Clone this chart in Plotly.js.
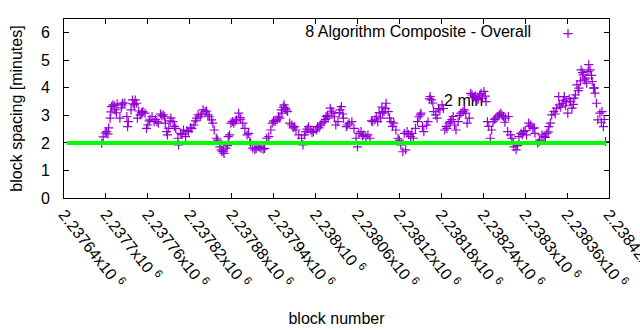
<!DOCTYPE html>
<html>
<head>
<meta charset="utf-8">
<script src="https://cdn.plot.ly/plotly-3.0.1.min.js"></script>
<style>html,body{margin:0;padding:0;background:#fff;}#chart{width:640px;height:330px;}</style>
</head>
<body>
<div id="chart"></div>
<script>
const blockNumbers = [
2237694,2237699,2237701,2237704,2237706,2237708,2237710,2237713,2237715,2237720,2237723,2237724,2237730,2237731,2237732,2237736,2237738,2237741,2237744,2237745,2237749,2237751,2237753,2237756,2237758,2237760,2237763,2237766,2237769,2237773,2237775,2237780,2237782,2237785,2237787,2237788,2237790,2237793,2237796,2237800,2237803,2237804,2237807,2237811,2237814,2237818,2237823,2237826,2237830,2237832,
2237835,2237839,2237842,2237846,2237851,2237853,2237855,2237858,2237860,2237863,2237866,2237869,2237872,2237875,2237877,2237879,2237883,2237887,2237890,2237893,2237896,2237899,2237902,2237904,2237907,2237910,2237913,2237918,2237922,2237925,2237930,2237933,2237936,2237938,2237942,2237945,2237949,2237952,2237955,2237957,2237960,2237963,2237966,2237970,2237972,2237976,2237980,
2237982,2237984,2237986,2237990,2237993,2237997,2238001,2238003,2238007,2238009,2238012,2238015,2238018,2238021,2238025,2238029,2238032,2238035,2238037,2238040,2238044,2238048,2238052,2238055,2238058,2238060,2238065,2238069,2238072,2238075,2238078,2238082,2238085,2238089,2238093,2238096,2238098,2238101,2238104,2238108,2238112,2238115,2238118,2238120,2238122,2238125,2238127,
2238129,2238131,2238136,2238140,2238143,2238146,2238150,2238151,2238155,2238159,2238161,2238164,2238166,2238169,2238172,2238174,2238178,2238181,2238185,2238188,2238191,2238193,2238197,2238201,2238204,2238208,2238211,2238215,2238217,2238220,2238224,2238228,2238231,2238235,2238239,2238241,2238244,2238246,2238250,2238252,2238254,2238258,2238261,2238265,2238269,2238272,2238275,
2238276,2238279,2238281,2238284,2238287,2238291,2238294,2238298,2238302,2238305,2238308,2238311,2238314,2238318,2238321,2238324,2238327,2238331,2238334,2238336,2238338,2238341,2238345,2238348,2238349,2238353,2238356,2238359,2238361,2238365,2238367,2238370,2238372,2238374,2238377,2238380,2238383,2238385,2238388,2238391,2238393,2238396,2238398,2238400,2238402,2238404,2238407,2238410,2238412,2238415,
2237696,2237703,2237707,2237712,2237716,2237722,2237727,2237739,2237742,2237747,2237752,2237762,2237771,2237778,2237784,2237792,2237798,2237809,2237816,2237821,2237828,
2237837,2237844,2237848,2237865,2237868,2237874,2237881,2237885,2237892,2237906,2237915,2237920,2237927,2237940,2237947,2237951,2237954,2237958,2237968,
2237988,2237995,2238005,2238014,2238017,2238023,2238027,2238034,2238039,2238046,2238062,2238067,2238080,2238087,2238091,2238095,2238100,2238106,2238110,
2238133,2238138,2238148,2238153,2238163,2238168,2238176,2238183,2238187,2238195,2238199,2238206,2238213,2238222,2238226,2238229,2238233,2238237,2238243,2238248,2238256,2238263,2238267,2238271,
2238283,2238289,2238296,2238300,2238307,2238313,2238320,2238329,2238333,2238343,2238351,2238355,2238358,2238363,2238369,2238376,2238379,2238382,2238387,2238390,2238395,2238399,2238409,2238413
];
const spacingMinutes = [
1.99,2.36,2.41,2.55,2.90,3.32,3.38,3.20,3.09,2.90,3.38,3.45,2.96,2.59,2.77,3.20,3.56,3.38,3.44,2.90,3.02,3.10,3.14,3.08,2.53,2.65,2.86,2.96,2.77,2.77,2.72,2.98,3.02,2.72,2.41,2.29,2.53,2.90,2.77,2.53,2.17,1.93,2.35,2.47,2.23,2.41,2.53,2.65,2.90,3.02,
2.95,3.20,3.14,3.02,2.84,2.72,2.47,2.17,2.10,1.86,1.68,1.62,1.81,2.23,2.29,2.72,2.72,2.84,3.08,2.86,2.72,2.53,2.29,2.35,1.99,1.81,1.75,1.86,1.81,1.77,2.17,2.23,2.47,2.72,2.77,2.84,2.90,3.08,3.38,3.26,3.14,2.72,2.65,2.59,2.47,2.29,2.17,
1.93,2.29,2.41,2.59,2.47,2.41,2.47,2.59,2.65,2.72,2.77,2.96,2.90,3.26,3.08,2.65,2.77,3.20,3.32,2.90,2.59,2.72,2.77,2.53,2.17,1.86,2.41,2.29,2.23,2.29,2.17,2.77,2.84,2.77,2.90,3.08,3.14,3.44,3.14,2.77,2.72,2.47,2.17,2.10,1.93,1.68,2.35,
1.75,2.41,2.23,2.17,2.53,2.77,3.02,3.08,2.41,2.65,2.77,3.68,3.56,3.14,3.02,2.90,3.20,3.38,2.47,2.53,2.72,2.77,2.96,2.47,2.77,3.08,3.14,3.08,2.72,2.90,3.74,3.68,3.56,3.74,3.63,3.87,3.50,2.77,2.17,2.47,2.77,2.90,2.96,3.08,2.96,2.90,2.41,
2.96,2.29,2.17,1.86,1.75,2.23,2.35,2.41,2.29,2.72,2.65,2.53,2.35,1.99,2.10,2.29,2.23,2.35,2.59,2.72,3.02,3.14,3.26,3.68,3.38,3.44,3.68,3.50,3.08,3.50,3.26,3.63,3.74,4.11,3.99,4.65,4.47,4.29,4.17,4.84,4.65,4.23,3.99,3.81,3.44,2.84,3.08,3.14,2.59,2.05,
2.22,2.33,3.13,3.35,3.42,3.27,3.45,3.42,3.56,3.16,3.09,2.80,2.85,3.05,2.95,2.80,2.60,2.30,2.45,2.55,2.80,
3.05,3.16,2.95,1.75,1.70,1.90,2.78,2.80,2.92,2.05,1.80,1.85,1.80,2.80,2.95,3.20,3.30,3.20,2.55,
2.50,2.38,2.55,2.85,3.00,3.15,2.95,3.10,3.05,2.65,2.35,2.25,2.80,2.95,3.10,3.30,3.25,2.90,2.60,
2.30,2.35,2.95,2.60,3.60,3.45,3.25,3.25,2.60,2.85,2.65,3.00,3.20,3.80,3.65,3.70,3.60,3.80,3.70,2.60,2.85,3.02,3.00,2.75,
2.00,1.90,2.30,2.45,2.60,2.55,2.05,2.20,2.40,3.05,3.30,3.55,3.35,3.60,3.40,3.90,4.25,4.55,4.35,4.60,4.45,4.00,2.75,2.85
];
const tickBlocks = [2237640,2237700,2237760,2237820,2237880,2237940,2238000,2238060,2238120,2238180,2238240,2238300,2238360,2238420];
const tickLabels = ["2.23764x10 <sup>6</sup>","2.2377x10 <sup>6</sup>","2.23776x10 <sup>6</sup>","2.23782x10 <sup>6</sup>","2.23788x10 <sup>6</sup>","2.23794x10 <sup>6</sup>","2.238x10 <sup>6</sup>","2.23806x10 <sup>6</sup>","2.23812x10 <sup>6</sup>","2.23818x10 <sup>6</sup>","2.23824x10 <sup>6</sup>","2.2383x10 <sup>6</sup>","2.23836x10 <sup>6</sup>","2.23842x10 <sup>6</sup>"];
const yTicks = [0,1,2,3,4,5,6];
const seriesName = "8 Algorithm Composite - Overall";
const targetMinutes = 2;
const labelText = "2 min";
const labelBlock = 2238184;
const labelMinutes = 3.5;

const FONT = "Liberation Sans, Arial, sans-serif";
const FS = 16;
const traces = [
  {x:[labelBlock], y:[labelMinutes], mode:'text', text:[labelText], textposition:'middle right',
   textfont:{family:FONT, size:FS, color:'#000'}, showlegend:false, hoverinfo:'skip'},
  {x:blockNumbers, y:spacingMinutes, type:'scatter', mode:'markers', name:' ',
   marker:{symbol:'cross-thin', size:6.5, color:'#9400d3', line:{color:'#9400d3', width:1.2}}}
];
const layout = {
  width:640, height:330,
  margin:{l:64, r:31, t:19, b:132},
  paper_bgcolor:'#fff', plot_bgcolor:'#fff',
  font:{family:FONT, size:FS, color:'#000'},
  showlegend:true,
  legend:{x:0.439, y:1.013, xanchor:'left', yanchor:'top', bgcolor:'rgba(0,0,0,0)',
          title:{text:seriesName + '\u00a0\u00a0', side:'left', font:{family:FONT, size:FS}}, font:{size:FS}},
  xaxis:{range:[tickBlocks[0], tickBlocks[tickBlocks.length-1]], tickvals:tickBlocks, ticktext:tickLabels,
         tickangle:52, ticks:'inside', ticklen:5, tickcolor:'#000', showline:true, linecolor:'#000', linewidth:1,
         mirror:'ticks', showgrid:false, zeroline:false, tickfont:{family:FONT, size:FS},
         ticklabeloverflow:'allow', automargin:false,
         title:{text:'block number', font:{family:FONT, size:FS}, standoff:22}},
  yaxis:{range:[0,6.5], tickvals:yTicks, ticks:'inside', ticklen:5, tickcolor:'#000', showline:true,
         linecolor:'#000', linewidth:1, mirror:'ticks', showgrid:false, zeroline:false,
         tickfont:{family:FONT, size:FS}, ticklabelstandoff:10, automargin:false,
         title:{text:'block spacing [minutes]', font:{family:FONT, size:FS}, standoff:14}},
  shapes:[{type:'line', xref:'paper', x0:0.005, x1:0.995, yref:'y', y0:targetMinutes, y1:targetMinutes,
           line:{color:'#00ff00', width:4}, layer:'above'}]
};
Plotly.newPlot('chart', traces, layout, {displayModeBar:false, staticPlot:true});
</script>
</body>
</html>
